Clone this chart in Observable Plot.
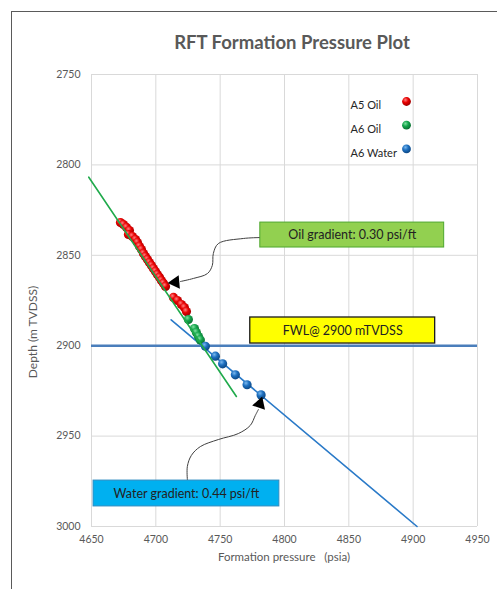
<!DOCTYPE html>
<html><head><meta charset="utf-8">
<script src="https://cdn.jsdelivr.net/npm/d3@7"></script>
<script src="https://cdn.jsdelivr.net/npm/@observablehq/plot@0.6"></script>
<style>
body{margin:0;background:#fff;}
#wrap{position:relative;width:497px;height:589px;overflow:hidden;font-family:Lato,sans-serif;}
#frame{position:absolute;left:11px;top:11px;width:600px;height:600px;border-left:1.5px solid #5a5a5a;border-top:1.5px solid #5a5a5a;}
#title{position:absolute;left:0;top:31px;width:584px;text-align:center;font-size:18.5px;font-weight:bold;color:#595959;line-height:22px;}
.axlabel{position:absolute;white-space:pre;color:#595959;font-size:11.5px;line-height:14px;transform:translate(-50%,-50%);}
#ylabel{font-size:12px;transform:translate(-50%,-50%) rotate(-90deg);}
#wrap svg{position:absolute;left:0;top:0;}
</style></head><body>
<div id="wrap"><div id="frame"></div><div id="title">RFT Formation Pressure Plot</div></div>
<script>
// ---- data ----
const xTicks = [4650, 4700, 4750, 4800, 4850, 4900, 4950];
const yTicks = [2750, 2800, 2850, 2900, 2950, 3000];
const xTitle = "Formation pressure   (psia)";
const yTitle = "Depth (m TVDSS)";

const a5OilPressure = [4672.5, 4674.8, 4677.2, 4679.5, 4678.7, 4681.8, 4684.2, 4685.7, 4687.3, 4688.8, 4690.4, 4691.9, 4693.5, 4695.0, 4696.6, 4698.1, 4699.7, 4701.2, 4702.8, 4704.3, 4705.9, 4707.5, 4713.7, 4716.8, 4719.9, 4722.2, 4723.8];
const a5OilDepth    = [2831.9, 2833.0, 2834.6, 2836.3, 2838.5, 2839.6, 2841.3, 2842.9, 2845.1, 2846.8, 2849.0, 2850.7, 2852.3, 2854.0, 2855.6, 2857.3, 2858.9, 2860.6, 2862.2, 2863.9, 2865.5, 2867.2, 2873.3, 2875.0, 2877.2, 2878.9, 2881.1];

const a6OilPressure = [4725.3, 4730.0, 4731.5, 4733.1, 4734.6];
const a6OilDepth    = [2885.5, 2890.5, 2892.7, 2894.9, 2896.8];

const a6WaterPressure = [4738.5, 4746.3, 4751.9, 4761.8, 4770.9, 4781.8];
const a6WaterDepth    = [2900.3, 2905.8, 2910.0, 2916.1, 2921.6, 2927.2];

const oilGradientPressure = [4647.9, 4762.6];
const oilGradientDepth    = [2806.8, 2928.1];
const waterGradientPressure = [4711.9, 4903.0];
const waterGradientDepth    = [2885.7, 3000.0];
const fwlDepth = [2900];

const seriesNames = ["A5 Oil", "A6 Oil", "A6 Water"];
const seriesFills = ["url(#gRed)", "url(#gGreen)", "url(#gBlue)"];

const boxLabels = ["Oil gradient: 0.30 psi/ft", "FWL@ 2900 mTVDSS", "Water gradient: 0.44 psi/ft"];
const boxX1 = [4781.2, 4773.4, 4651.6];
const boxX2 = [4924.1, 4917.1, 4796.0];
const boxY1 = [2831.9, 2884.4, 2974.6];
const boxY2 = [2845.7, 2898.8, 2988.9];
const boxFill = ["#92d050", "#ffff00", "#00b0f0"];
const boxStroke = ["#4ea72e", "#1a1a1a", "#2e8bc0"];

const arrow1Pressure = [4780.4, 4768.0, 4748.6, 4744.7, 4743.9, 4740.1, 4729.2, 4719.1];
const arrow1Depth    = [2840.2, 2840.7, 2843.5, 2849.0, 2855.6, 2860.1, 2862.8, 2864.5];
const arrow2Pressure = [4724.5, 4724.5, 4727.6, 4734.6, 4748.6, 4764.1, 4773.4, 4777.3, 4779.7];
const arrow2Depth    = [2974.0, 2966.8, 2960.7, 2955.8, 2951.9, 2948.6, 2944.1, 2938.6, 2935.3];
const headPressure = [4715.2, 4780.8];
const headDepth    = [2865.0, 2932.2];
const headAngle    = [-95, 18];

// ---- build tables ----
const zip = (ps, ds) => ps.map((p, i) => ({p, d: ds[i]}));
const pts = [zip(a5OilPressure, a5OilDepth), zip(a6OilPressure, a6OilDepth), zip(a6WaterPressure, a6WaterDepth)];
const boxes = boxLabels.map((t, i) => ({t, x1: boxX1[i], x2: boxX2[i], y1: boxY1[i], y2: boxY2[i], fill: boxFill[i], stroke: boxStroke[i]}));
const heads = headPressure.map((p, i) => ({p, d: headDepth[i], a: headAngle[i]}));

const marks = [
  Plot.ruleX(xTicks, {stroke: "#d9d9d9", strokeWidth: 1}),
  Plot.ruleY(yTicks, {stroke: "#d9d9d9", strokeWidth: 1}),
  Plot.ruleY(fwlDepth, {stroke: "#4a7ebb", strokeWidth: 2.5}),
  Plot.line(zip(waterGradientPressure, waterGradientDepth), {x: "p", y: "d", stroke: "#2a7ac8", strokeWidth: 1.6}),
  ...pts.map((s, i) => Plot.dot(s, {x: "p", y: "d", r: 4.6, fill: seriesFills[i]})),
  Plot.line(zip(oilGradientPressure, oilGradientDepth), {x: "p", y: "d", stroke: "#1faa4b", strokeWidth: 1.6}),
  ...boxes.map(b => Plot.rect([b], {x1: "x1", x2: "x2", y1: "y1", y2: "y2", fill: b.fill, stroke: b.stroke, strokeWidth: b.stroke === "#1a1a1a" ? 1.3 : 1})),
  Plot.text(boxes, {x: d => (d.x1 + d.x2) / 2, y: d => (d.y1 + d.y2) / 2, text: "t", fill: "#222", fontSize: 12.5}),
  Plot.line(zip(arrow1Pressure, arrow1Depth), {x: "p", y: "d", curve: "catmull-rom", stroke: "#404040", strokeWidth: 1}),
  Plot.line(zip(arrow2Pressure, arrow2Depth), {x: "p", y: "d", curve: "catmull-rom", stroke: "#404040", strokeWidth: 1}),
  Plot.dot(heads, {x: "p", y: "d", symbol: "triangle", r: 5, fill: "#000", rotate: "a"}),
  ...seriesNames.map((n, i) => Plot.text([n], {frameAnchor: "top-right", dx: -127, dy: 27 + i * 23.7, textAnchor: "start", fill: "#262626", fontSize: 11})),
  ...seriesNames.map((n, i) => Plot.dot([n], {frameAnchor: "top-right", dx: -71, dy: 27 + i * 23.7, r: 4.4, fill: seriesFills[i]}))
];

const chart = Plot.plot({
  width: 497, height: 589,
  marginLeft: 91, marginRight: 20, marginTop: 74, marginBottom: 63,
  style: {fontFamily: "Lato, sans-serif", fontSize: "10.5px", color: "#595959", background: "transparent"},
  x: {domain: [4650, 4950], ticks: xTicks, tickSize: 0, tickPadding: 9, tickFormat: d => String(d), label: null},
  y: {domain: [2750, 3000], reverse: true, ticks: yTicks, tickSize: 0, tickPadding: 11, tickFormat: d => String(d), label: null},
  symbol: {type: "identity"},
  marks
});

// sphere-like gradients
const ns = "http://www.w3.org/2000/svg";
const defs = document.createElementNS(ns, "defs");
[["gRed", "#ff8080", "#e80000", "#9a0000"], ["gGreen", "#7fe0a0", "#14a64c", "#0a6a30"], ["gBlue", "#7ab8ee", "#1e70c0", "#0c4682"]].forEach(([id, c0, c1, c2]) => {
  const g = document.createElementNS(ns, "radialGradient");
  g.setAttribute("id", id); g.setAttribute("cx", "38%"); g.setAttribute("cy", "32%"); g.setAttribute("r", "70%");
  [[0, c0], [0.45, c1], [1, c2]].forEach(([o, c]) => {
    const s = document.createElementNS(ns, "stop");
    s.setAttribute("offset", o); s.setAttribute("stop-color", c); g.appendChild(s);
  });
  defs.appendChild(g);
});
chart.insertBefore(defs, chart.firstChild);
const wrap = document.getElementById("wrap");
wrap.appendChild(chart);

// axis titles placed in the chart's own coordinate frame
const xs = chart.scale("x"), ys = chart.scale("y");
const xMid = (xs.range[0] + xs.range[1]) / 2;
const yTop = Math.min(...ys.range), yBot = Math.max(...ys.range);
const xl = document.createElement("div");
xl.className = "axlabel"; xl.textContent = xTitle;
xl.style.left = xMid + "px"; xl.style.top = (yBot + 30.5) + "px";
wrap.appendChild(xl);
const yl = document.createElement("div");
yl.className = "axlabel"; yl.id = "ylabel"; yl.textContent = yTitle;
yl.style.left = (Math.min(...xs.range) - 58) + "px"; yl.style.top = ((yTop + yBot) / 2 + 32) + "px";
wrap.appendChild(yl);
</script>
</body></html>
